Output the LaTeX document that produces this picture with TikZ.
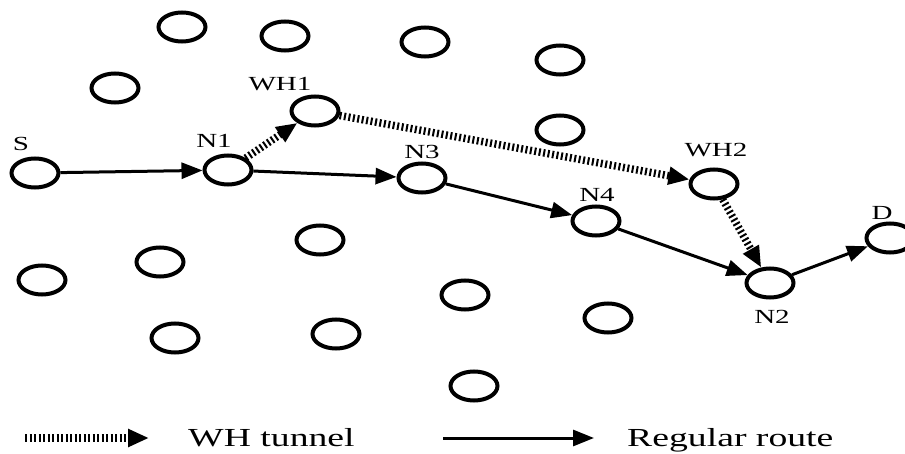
\documentclass[tikz,border=0pt]{standalone}
\usepackage{fontspec}
\usepackage{graphicx}
\setmainfont{Liberation Serif}
\usetikzlibrary{shapes.geometric,arrows.meta}
\newcommand{\wide}[1]{\scalebox{1.45}[1]{#1}}
\begin{document}
\begin{tikzpicture}[x=1pt,y=-1pt,
  nd/.style={ellipse,draw,line width=4pt,minimum width=47pt,minimum height=29pt,inner sep=0pt},
  lab/.style={font=\fontsize{20}{20}\selectfont,inner sep=0pt},
  leg/.style={font=\fontsize{26}{26}\selectfont,inner sep=0pt,anchor=base west},
  route/.style={line width=3pt,-{Triangle[length=21pt,width=16pt]}},
  tunnel/.style={line width=7.5pt,dash pattern=on 2pt off 2.5pt,-{Triangle[length=21pt,width=17pt]}}]
\useasboundingbox (0,0) rectangle (905,454);
\clip (0,0) rectangle (905,454);
% plain nodes
\node[nd] (a) at (182,27) {};
\node[nd] (b) at (285,36) {};
\node[nd] (c) at (425,42) {};
\node[nd] (e) at (560,60) {};
\node[nd] (f) at (115,88) {};
\node[nd] (g) at (560,130) {};
\node[nd] (h) at (320,240) {};
\node[nd] (i) at (160,262) {};
\node[nd] (j) at (42,280) {};
\node[nd] (k) at (465,295) {};
\node[nd] (l) at (608,318) {};
\node[nd] (m) at (175,338) {};
\node[nd] (o) at (336,334) {};
\node[nd] (p) at (474,386) {};
% route nodes
\node[nd] (S) at (35,173) {};
\node[nd] (N1) at (228,170) {};
\node[nd] (WH1) at (315,111) {};
\node[nd] (N3) at (422,178) {};
\node[nd] (WH2) at (714,184) {};
\node[nd] (N4) at (596,221) {};
\node[nd] (N2) at (770,283) {};
\node[nd] (D) at (890,238) {};
% labels
\node[lab] (lS) at (21,144) {\wide{S}};
\node[lab] (lN1) at (214,141) {\wide{N1}};
\node[lab] (lWH1) at (280,84) {\wide{WH1}};
\node[lab] (lN3) at (422,152) {\wide{N3}};
\node[lab] (lWH2) at (716,150) {\wide{WH2}};
\node[lab] (lN4) at (597,195) {\wide{N4}};
\node[lab] (lD) at (882,213) {\wide{D}};
\node[lab] (lN2) at (772,317) {\wide{N2}};
% regular route
\draw[route] (S) -- (N1);
\draw[route] (N1) -- (N3);
\draw[route] (N3) -- (N4);
\draw[route] (N4) -- (N2);
\draw[route] (N2) -- (D);
% wormhole tunnel
\draw[tunnel] (N1) -- (WH1);
\draw[tunnel] (WH1) -- (WH2);
\draw[tunnel] (WH2) -- (N2);
% legend
\coordinate (t1) at (25,438);
\coordinate (t2) at (149,438);
\coordinate (r1) at (443,438);
\coordinate (r2) at (594,438);
\draw[tunnel] (t1) -- (t2);
\draw[route] (r1) -- (r2);
\node[leg] (lt) at (188,446.5) {\wide{WH tunnel}};
\node[leg] (lr) at (627,446.5) {\wide{Regular route}};
\end{tikzpicture}
\end{document}
